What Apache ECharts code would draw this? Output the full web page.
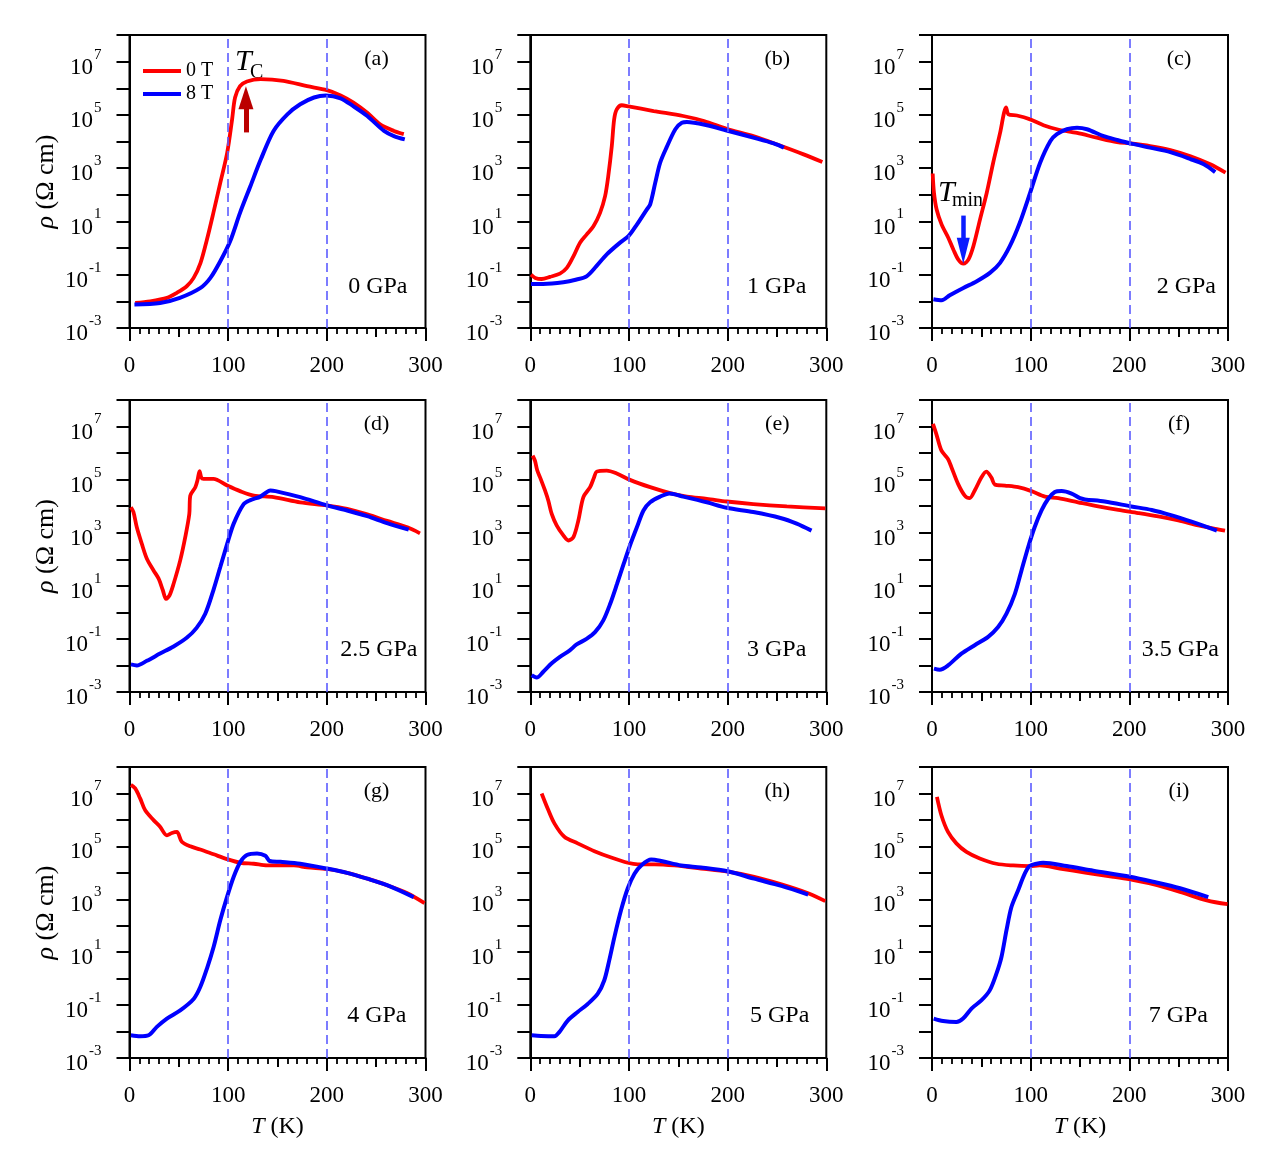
<!DOCTYPE html>
<html>
<head>
<meta charset="utf-8">
<script src="https://cdn.jsdelivr.net/npm/echarts@6/dist/echarts.min.js"></script>
<style>
html, body { margin: 0; padding: 0; background: #fff; }
#chart { width: 1288px; height: 1153px; }
</style>
</head>
<body>
<div id="chart"></div>
<script>
// resistivity rho (Ohm cm) vs T (K), pairs [T, rho]
const rhoA0T = [[5.8, 8.7e-3], [21, 1.0e-2], [38, 1.35e-2], [48, 2.1e-2], [58, 3.7e-2], [65, 7.6e-2], [72, 0.28], [78.5, 2.1], [85, 21], [92, 280], [99, 3.8e3], [104, 6.8e4], [107, 4.5e5], [112, 1.2e6], [119, 1.8e6], [133, 2.2e6], [156, 1.9e6], [180, 1.2e6], [200, 8.5e5], [214, 5.4e5], [227, 2.9e5], [241, 1.2e5], [254, 4.4e4], [268, 2.5e4], [278, 1.9e4]]
const rhoA8T = [[5, 7.6e-3], [31, 8.7e-3], [51, 1.35e-2], [72, 3.2e-2], [82, 7.6e-2], [92, 0.32], [102, 1.8], [112, 21], [122.5, 210], [133, 2.1e3], [146, 2.5e4], [160, 1.05e5], [173, 2.5e5], [187, 4.5e5], [199, 5.4e5], [214, 4.2e5], [227, 2.1e5], [241, 9.1e4], [258, 2.5e4], [268, 1.6e4], [279, 1.2e4]]
const rhoB0T = [[0.7, 0.1], [5, 7.6e-2], [11.5, 6.9e-2], [20, 8.3e-2], [30, 0.11], [37, 0.18], [43.7, 0.49], [50.4, 1.6], [57, 3.2], [64, 6.6], [70.7, 21], [75.8, 89], [79, 500], [82.6, 6.8e3], [85, 6.8e4], [87.6, 1.6e5], [92.7, 2.3e5], [99.5, 2.1e5], [125, 1.4e5], [155, 9.1e4], [176, 5.9e4], [199, 3.0e4], [226, 1.6e4], [253, 7.1e3], [277, 3.3e3], [296, 1.7e3]]
const rhoB8T = [[0.7, 4.5e-2], [13, 4.5e-2], [33.5, 5.2e-2], [47, 6.6e-2], [57, 8.7e-2], [67, 0.21], [77.5, 0.58], [91, 1.6], [99.5, 2.8], [108, 7.6], [118, 28], [121.5, 44], [126.6, 280], [131.6, 1.6e3], [138, 5.9e3], [147, 2.9e4], [153.6, 5.1e4], [158.7, 5.4e4], [179, 4.1e4], [199, 2.6e4], [226, 1.4e4], [246.7, 8.5e3], [257, 5.9e3]]
const rhoC0T = [[0.7, 630], [2, 120], [4.7, 28], [9.8, 7.6], [16.6, 2.4], [21.7, 0.87], [26.7, 0.37], [31.8, 0.26], [36.9, 0.37], [42, 1.2], [48.7, 12], [55.5, 120], [62, 1.6e3], [69, 2.1e4], [73, 1.2e5], [75, 1.9e5], [77.5, 1.05e5], [86, 9.5e4], [99.5, 6.8e4], [113, 4.1e4], [126.6, 2.9e4], [147, 2.1e4], [167, 1.4e4], [187.5, 9.5e3], [201, 8.5e3], [221, 6.8e3], [241.6, 4.8e3], [262, 2.8e3], [282, 1.4e3], [297.5, 680]]
const rhoC8T = [[1.4, 1.2e-2], [9.8, 1.1e-2], [18, 1.7e-2], [31.8, 3.2e-2], [45, 5.6e-2], [59, 0.12], [69, 0.28], [79, 1.2], [89, 8.9], [99.5, 120], [109.6, 1.6e3], [120, 1.05e4], [126.6, 1.9e4], [136.7, 2.9e4], [147, 3.3e4], [157, 2.9e4], [174, 1.6e4], [187.5, 1.15e4], [201, 8.5e3], [221, 5.9e3], [241.6, 4.0e3], [262, 2.2e3], [275.5, 1.4e3], [287, 710]]
const rhoD0T = [[1.4, 9.1e3], [4, 6.0e3], [7.4, 1.6e3], [12.5, 380], [17.6, 105], [24.4, 38], [29.4, 19], [33.8, 6.8], [37, 3.2], [40.6, 4.4], [44.7, 12], [51.4, 91], [56.5, 680], [60.6, 5.1e3], [61.6, 2.5e4], [66.7, 5.2e4], [69, 9.8e4], [71, 2.1e5], [72.8, 1.2e5], [75, 1.07e5], [85, 1.07e5], [99, 6.0e4], [112, 3.7e4], [126, 2.5e4], [146, 2.2e4], [173, 1.4e4], [200, 1.07e4], [220.6, 7.9e3], [241, 4.9e3], [261, 2.8e3], [281.6, 1.6e3], [294.4, 950]]
const rhoD8T = [[1.4, 1.1e-2], [7.4, 1.0e-2], [17.6, 1.5e-2], [31, 2.8e-2], [44.7, 5.2e-2], [58, 0.11], [68, 0.26], [76.8, 0.89], [85, 6.8], [92, 51], [99, 380], [105.6, 2.2e3], [115.7, 1.2e4], [122.5, 1.7e4], [132.7, 2.3e4], [142.8, 3.9e4], [148, 3.7e4], [173, 2.2e4], [200, 1.07e4], [220.6, 6.9e3], [241, 4.2e3], [261, 2.3e3], [283, 1.3e3]]
const rhoE0T = [[2.4, 8.1e5], [4.7, 5.2e5], [7.1, 2.2e5], [10.5, 1.07e5], [14.9, 3.9e4], [18.3, 1.6e4], [21.7, 5.1e3], [26.7, 1.9e3], [33.5, 790], [38.6, 510], [43.7, 680], [48.7, 2.9e3], [53.8, 2.2e4], [60.6, 5.2e4], [64.6, 1.2e5], [67.3, 2.0e5], [77.5, 2.2e5], [87.6, 1.7e5], [101, 9.8e4], [121.5, 5.2e4], [141.8, 3.1e4], [158.7, 2.3e4], [179, 1.9e4], [199, 1.5e4], [226, 1.2e4], [260, 9.8e3], [299, 8.3e3]]
const rhoE8T = [[1.4, 4.3e-3], [6.4, 3.5e-3], [13.2, 5.8e-3], [21.7, 1.2e-2], [30, 2.1e-2], [40, 3.7e-2], [47, 6.2e-2], [57, 0.10], [65.6, 0.18], [74, 0.5], [81, 2.1], [88, 12], [94.7, 68], [101, 330], [108, 1.6e3], [114.7, 6.9e3], [121.5, 1.4e4], [131.6, 2.3e4], [141, 3.0e4], [155, 2.3e4], [179, 1.4e4], [199, 8.7e3], [226, 6.0e3], [253.5, 3.6e3], [270, 2.2e3], [285, 1.2e3]]
const rhoF0T = [[1, 1.26e7], [4.4, 5.2e6], [9.5, 1.26e6], [16.2, 6.0e5], [19.6, 3.0e5], [26.4, 6.9e4], [33.2, 2.5e4], [38.2, 2.0e4], [43.3, 3.9e4], [50, 1.2e5], [55, 2.0e5], [60.2, 1.2e5], [63.6, 6.6e4], [73.8, 6.0e4], [87.3, 5.2e4], [100.8, 3.7e4], [114.4, 2.3e4], [128, 2.0e4], [148, 1.4e4], [168.5, 9.8e3], [188.8, 7.2e3], [209, 5.5e3], [229.4, 4.1e3], [249.7, 2.9e3], [270, 1.9e3], [287, 1.4e3], [297, 1.2e3]]
const rhoF8T = [[2, 7.6e-3], [7.8, 6.9e-3], [16.2, 1.0e-2], [29.8, 2.8e-2], [43.3, 5.8e-2], [56.9, 0.12], [67, 0.28], [75.5, 0.89], [84, 5.0], [90.7, 38], [97.5, 290], [104, 1.6e3], [111, 6.9e3], [117.8, 1.9e4], [124.5, 3.4e4], [131.3, 3.7e4], [141.5, 3.0e4], [150, 2.0e4], [155, 1.8e4], [175, 1.5e4], [202, 9.8e3], [222.7, 7.2e3], [243, 4.5e3], [263, 2.6e3], [288.7, 1.2e3]]
const rhoG0T = [[1.4, 2.1e7], [5.8, 1.55e7], [10.8, 6.5e6], [15.9, 2.3e6], [24.4, 9.8e5], [31, 5.5e5], [37.9, 2.6e5], [43, 3.2e5], [48, 3.5e5], [53, 1.5e5], [61.6, 1.0e5], [71.7, 7.6e4], [85.3, 5.0e4], [98.8, 3.3e4], [112.4, 2.4e4], [125.9, 2.2e4], [139.4, 1.9e4], [153, 1.9e4], [166.5, 1.9e4], [180, 1.6e4], [200, 1.4e4], [220.6, 1.0e4], [241, 6.0e3], [261, 3.4e3], [281.6, 1.7e3], [299, 720]]
const rhoG8T = [[1.4, 7.2e-3], [10.8, 6.6e-3], [19.3, 7.2e-3], [27.7, 1.5e-2], [37.9, 3.1e-2], [51.4, 6.3e-2], [65, 0.17], [71.7, 0.48], [78.5, 2.4], [85.3, 16], [92, 160], [98.8, 1.2e3], [105.6, 7.1e3], [112.4, 2.6e4], [119, 4.7e4], [129.3, 5.4e4], [137.7, 4.4e4], [142, 2.8e4], [153, 2.6e4], [173, 2.2e4], [200, 1.45e4], [220.6, 1.0e4], [241, 6.0e3], [261, 3.4e3], [288, 1.2e3]]
const rhoH0T = [[11.5, 1.0e7], [17.6, 2.7e6], [24.4, 7.4e5], [34.5, 2.3e5], [48, 1.3e5], [65, 6.6e4], [82, 3.8e4], [98.8, 2.4e4], [109, 2.1e4], [126, 2.1e4], [146, 1.9e4], [173, 1.45e4], [200, 1.1e4], [227, 7.1e3], [254.5, 3.7e3], [281.6, 1.7e3], [299, 850]]
const rhoH8T = [[1.4, 7.2e-3], [10.8, 6.8e-3], [24.4, 6.6e-3], [29.4, 9.5e-3], [37.9, 2.6e-2], [48, 5.5e-2], [58.2, 0.11], [68.4, 0.27], [75, 0.87], [80, 4.9], [85.3, 38], [92, 390], [98.8, 2.6e3], [105.6, 9.3e3], [112.4, 1.9e4], [122.5, 3.2e4], [132.7, 2.8e4], [153, 1.9e4], [173, 1.6e4], [200, 1.15e4], [227, 6.0e3], [254.5, 3.2e3], [281.6, 1.5e3]]
const rhoI0T = [[5, 7.4e6], [9.5, 1.5e6], [16.2, 3.5e5], [24.7, 1.3e5], [34.9, 6.2e4], [48.4, 3.5e4], [65.3, 2.2e4], [82.2, 1.9e4], [99, 1.8e4], [109, 1.9e4], [129.6, 1.45e4], [156.7, 1.0e4], [183.8, 7.1e3], [200.7, 5.6e3], [224, 3.7e3], [251.4, 1.9e3], [278.5, 910], [299.5, 650]]
const rhoI8T = [[1.7, 3.1e-2], [11.2, 2.5e-2], [24.7, 2.3e-2], [31.5, 3.1e-2], [40, 7.4e-2], [50, 0.15], [58.5, 0.36], [65.3, 1.55], [70.4, 6.6], [75.5, 68], [80.5, 510], [87.3, 2.2e3], [94, 9.3e3], [99, 1.8e4], [106, 2.2e4], [112.7, 2.4e4], [136.4, 1.8e4], [163.5, 1.2e4], [200.7, 7.1e3], [224, 4.6e3], [251.4, 2.6e3], [280, 1.2e3]]

const panelTags = ['(a)', '(b)', '(c)', '(d)', '(e)', '(f)', '(g)', '(h)', '(i)']
const pressures = ['0 GPa', '1 GPa', '2 GPa', '2.5 GPa', '3 GPa', '3.5 GPa', '4 GPa', '5 GPa', '7 GPa']
const curves0T = [rhoA0T, rhoB0T, rhoC0T, rhoD0T, rhoE0T, rhoF0T, rhoG0T, rhoH0T, rhoI0T]
const curves8T = [rhoA8T, rhoB8T, rhoC8T, rhoD8T, rhoE8T, rhoF8T, rhoG8T, rhoH8T, rhoI8T]
const guideT = [100, 200]
const fieldNames = ['0 T', '8 T']
// annotation arrows [T, rho from, rho to]
const tcArrow = [118, 2.2e4, 4.4e5]
const tminArrow = [31.7, 16.6, 0.8]

const FONT = "'Liberation Serif', 'Times New Roman', serif"
const RED = '#ff0000'
const BLUE = '#0000ff'

const colLeft = [129.5, 530.3, 932]
const rowTop = [35, 400, 767]
const rowHeight = [293, 292, 291]
const plotWidth = 296
const gpaOffset = [18, 20, 12, 8, 20, 9, 19, 17, 20]
const gpaY = [287, 650, 1016]

const chart = echarts.init(document.getElementById('chart'))

const grids = []
const xAxes = []
const yAxes = []
const series = []
const graphics = []

for (let i = 0; i < 9; i++) {
    const row = Math.floor(i / 3)
    const col = i % 3
    const left = colLeft[col]
    const top = rowTop[row]
    grids.push({
        left: left,
        top: top,
        width: plotWidth,
        height: rowHeight[row],
        show: true,
        borderColor: '#000',
        borderWidth: 2,
        backgroundColor: 'transparent',
    })

    // data axis + minor ticks
    xAxes.push({
        gridIndex: i,
        type: 'value',
        position: 'bottom',
        min: 0,
        max: 300,
        interval: 50,
        axisLine: { show: true, onZero: false, lineStyle: { color: '#000', width: 2 } },
        axisTick: { show: true, length: 9, lineStyle: { color: '#000', width: 2 } },
        minorTick: { show: true, splitNumber: 5, length: 6, lineStyle: { color: '#000', width: 1.8 } },
        axisLabel: { show: false },
        splitLine: { show: false },
    })
    // labelled axis with long ticks
    xAxes.push({
        gridIndex: i,
        type: 'value',
        position: 'bottom',
        min: 0,
        max: 300,
        interval: 100,
        axisLine: { show: false, onZero: false },
        axisTick: { show: true, length: 13, lineStyle: { color: '#000', width: 2 } },
        axisLabel: { margin: 26, fontSize: 23, fontFamily: FONT, color: '#000' },
        splitLine: { show: false },
        name: row === 2 ? '{i|T} (K)' : '',
        nameLocation: 'middle',
        nameGap: 57,
        nameTextStyle: {
            fontSize: 24, fontFamily: FONT, color: '#000',
            rich: { i: { fontSize: 24, fontFamily: FONT, fontStyle: 'italic', color: '#000' } },
        },
    })

    yAxes.push({
        gridIndex: i,
        type: 'log',
        position: 'left',
        logBase: 10,
        min: 1e-3,
        max: 1e8,
        axisLine: { show: false, onZero: false },
        axisTick: { show: false },
        axisLabel: { show: false },
        splitLine: { show: false },
    })
    // decade ticks (exponent scale over the same span)
    yAxes.push({
        gridIndex: i,
        type: 'value',
        position: 'left',
        min: -3,
        max: 8,
        interval: 1,
        axisLine: { show: true, onZero: false, lineStyle: { color: '#000', width: 2 } },
        axisTick: { show: true, length: 13, lineStyle: { color: '#000', width: 2 } },
        axisLabel: {
            margin: 28,
            formatter: (v) => (v % 2 !== 0 ? '{b|10}{s|' + v + '}' : ''),
            rich: {
                b: { fontSize: 23, fontFamily: FONT, color: '#000', padding: [12, 0, 0, 0], verticalAlign: 'bottom' },
                s: { fontSize: 15, fontFamily: FONT, color: '#000', padding: [3, 0, 0, 1], verticalAlign: 'top' },
            },
        },
        splitLine: { show: false },
        name: col === 0 ? '{i|ρ} (Ω cm)' : '',
        nameLocation: 'middle',
        nameGap: 70,
        nameRotate: 90,
        nameTextStyle: {
            fontSize: 26, fontFamily: FONT, color: '#000',
            rich: { i: { fontSize: 26, fontFamily: FONT, fontStyle: 'italic', color: '#000' } },
        },
    })

    const xi = 2 * i
    const yi = 2 * i

    series.push({
        type: 'line',
        xAxisIndex: xi,
        yAxisIndex: yi,
        data: [],
        silent: true,
        z: 1,
        markLine: {
            silent: true,
            symbol: 'none',
            label: { show: false },
            lineStyle: { type: [9, 5], color: '#5c5cff', width: 1.6 },
            data: guideT.map((t) => ({ xAxis: t })),
        },
    })
    series.push({
        name: fieldNames[0],
        type: 'line',
        xAxisIndex: xi,
        yAxisIndex: yi,
        data: curves0T[i],
        showSymbol: false,
        smooth: 0.3,
        lineStyle: { color: RED, width: 3.8 },
        itemStyle: { color: RED },
        z: 3,
    })
    series.push({
        name: fieldNames[1],
        type: 'line',
        xAxisIndex: xi,
        yAxisIndex: yi,
        data: curves8T[i],
        showSymbol: false,
        smooth: 0.3,
        lineStyle: { color: BLUE, width: 4 },
        itemStyle: { color: BLUE },
        z: 4,
    })

    graphics.push({
        type: 'text',
        x: left + 247,
        y: top + 24,
        style: {
            text: panelTags[i], fill: '#000', font: '22px ' + FONT,
            textAlign: 'center', textVerticalAlign: 'middle', verticalAlign: 'middle',
        },
    })
    graphics.push({
        type: 'text',
        x: left + plotWidth - gpaOffset[i],
        y: gpaY[row],
        style: {
            text: pressures[i], fill: '#000', font: '24px ' + FONT,
            textAlign: 'right', textVerticalAlign: 'middle', verticalAlign: 'middle',
        },
    })
}

function arrowSeries(panel, arrow, color, width, size) {
    return {
        type: 'line',
        xAxisIndex: 2 * panel,
        yAxisIndex: 2 * panel,
        data: [],
        silent: true,
        z: 6,
        markLine: {
            silent: true,
            symbol: ['none', 'triangle'],
            symbolSize: size,
            label: { show: false },
            lineStyle: { type: 'solid', color: color, width: width },
            data: [[{ coord: [arrow[0], arrow[1]] }, { coord: [arrow[0], arrow[2]] }]],
        },
    }
}
series.push(arrowSeries(0, tcArrow, '#bb0000', 5, [15, 23]))
series.push(arrowSeries(2, tminArrow, '#0a1cff', 4.5, [13, 26]))

function subText(x, y, main, sub, subDx, subDy) {
    return [
        {
            type: 'text', x: x, y: y,
            style: { text: main, fill: '#000', font: 'italic 30px ' + FONT, textVerticalAlign: 'middle', verticalAlign: 'middle' },
        },
        {
            type: 'text', x: x + subDx, y: y + subDy,
            style: { text: sub, fill: '#000', font: '20px ' + FONT, textVerticalAlign: 'middle', verticalAlign: 'middle' },
        },
    ]
}
graphics.push(...subText(235, 62, 'T', 'C', 15, 11))
graphics.push(...subText(938, 193, 'T', 'min', 14, 8))

const option = {
    animation: false,
    backgroundColor: '#fff',
    grid: grids,
    xAxis: xAxes,
    yAxis: yAxes,
    legend: {
        data: fieldNames,
        orient: 'vertical',
        left: 138,
        top: 56,
        itemWidth: 38,
        itemHeight: 4,
        itemGap: 3,
        icon: 'rect',
        selectedMode: false,
        textStyle: { fontSize: 20, fontFamily: FONT, color: '#000' },
    },
    graphic: graphics,
    series: series,
}

chart.setOption(option)
</script>
</body>
</html>
